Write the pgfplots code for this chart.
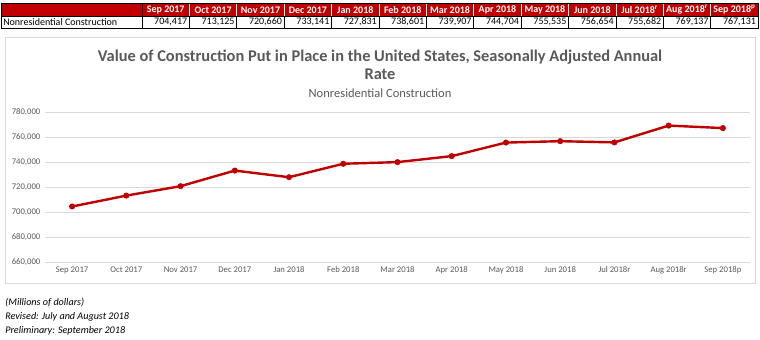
\documentclass[border=0pt]{standalone}
\usepackage{fontspec}
\setmainfont{Carlito}
\usepackage{pgfplots}
\pgfplotsset{compat=1.18}
\definecolor{cred}{HTML}{C00000}
\definecolor{tgray}{HTML}{595959}
\definecolor{ggray}{HTML}{D9D9D9}
\begin{document}
\begin{tikzpicture}
\begin{scope}[x=0.75pt,y=-0.75pt]
\path[use as bounding box] (0,0) rectangle (760,339);
% table
\fill[cred] (1,3) rectangle (758,16);
\foreach \i in {1,...,12} \draw[white, line width=0.5pt] ({142+47.4*\i},3) -- ({142+47.4*\i},16);
\foreach \i in {0,...,13} \draw[black, line width=0.6pt] ({142+47.4*\i},16) -- ({142+47.4*\i},28);
\draw[black, line width=0.6pt] (1,3) rectangle (758.2,28);
\draw[black, line width=0.6pt] (1,16) -- (758.2,16);
\draw[black, line width=0.6pt] (142,3) -- (142,28);
\foreach \lab [count=\i from 0] in {Sep 2017,Oct 2017,Nov 2017,Dec 2017,Jan 2018,Feb 2018,Mar 2018,Apr 2018,May 2018,Jun 2018,{Jul 2018\textsuperscript{r}},{Aug 2018\textsuperscript{r}},{Sep 2018\textsuperscript{p}}}
  \node[font=\bfseries\fontsize{7.5}{9}\selectfont, text=white, inner sep=0pt] at ({142+47.4*\i+23.7},10) {\lab};
\foreach \val [count=\i from 1] in {{704,417},{713,125},{720,660},{733,141},{727,831},{738,601},{739,907},{744,704},{755,535},{756,654},{755,682},{769,137},{767,131}}
  \node[font=\fontsize{7.5}{9}\selectfont, anchor=east, inner sep=0pt] at ({142+47.4*\i-2},22) {\val};
\node[font=\fontsize{7.5}{9}\selectfont, anchor=west, inner sep=0pt] at (3,22) {Nonresidential Construction};
% chart box
\draw[ggray, line width=0.6pt] (5,37) rectangle (755,283);
\node[font=\bfseries\fontsize{12.3}{14}\selectfont, text=tgray, anchor=base, inner sep=0pt] at (380,61) {Value of Construction Put in Place in the United States, Seasonally Adjusted Annual};
\node[font=\bfseries\fontsize{12.3}{14}\selectfont, text=tgray, anchor=base, inner sep=0pt] at (380,79) {Rate};
\node[font=\fontsize{9.4}{11}\selectfont, text=tgray, anchor=base, inner sep=0pt] at (380,97) {Nonresidential Construction};
\node[font=\itshape\fontsize{7.6}{9}\selectfont, anchor=base west, inner sep=0pt] at (5,305) {(Millions of dollars)};
\node[font=\itshape\fontsize{7.6}{9}\selectfont, anchor=base west, inner sep=0pt] at (5,319) {Revised: July and August 2018};
\node[font=\itshape\fontsize{7.6}{9}\selectfont, anchor=base west, inner sep=0pt] at (5,333) {Preliminary: September 2018};
\end{scope}
\begin{axis}[
  at={(33.75pt,-196.5pt)}, anchor=south west, scale only axis,
  width=528.75pt, height=112.5pt,
  xmin=-0.5, xmax=12.5, ymin=660000, ymax=780000,
  ytick={660000,680000,700000,720000,740000,760000,780000},
  yticklabels={{660,000},{680,000},{700,000},{720,000},{740,000},{760,000},{780,000}},
  xtick={0,...,12},
  xticklabels={Sep 2017,Oct 2017,Nov 2017,Dec 2017,Jan 2018,Feb 2018,Mar 2018,Apr 2018,May 2018,Jun 2018,Jul 2018r,Aug 2018r,Sep 2018p},
  ymajorgrids, grid style={ggray, line width=0.6pt},
  axis line style={draw=none}, tick style={draw=none},
  scaled y ticks=false,
  ticklabel style={font=\fontsize{6.5}{8}\selectfont, text=tgray},
  clip=false,
]
\addplot[cred, line width=1.8pt, mark=*, mark size=2pt, mark options={fill=cred, line width=0.5pt}] coordinates {
(0,704417) (1,713125) (2,720660) (3,733141) (4,727831) (5,738601) (6,739907)
(7,744704) (8,755535) (9,756654) (10,755682) (11,769137) (12,767131)};
\end{axis}
\end{tikzpicture}
\end{document}
